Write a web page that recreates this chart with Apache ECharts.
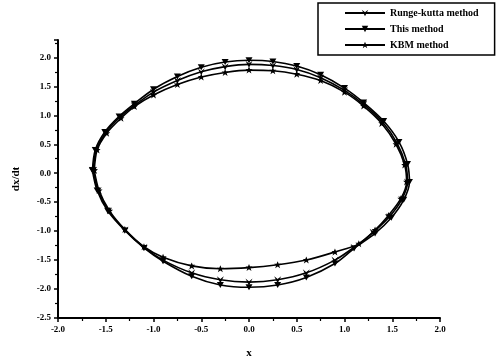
<!DOCTYPE html>
<html>
<head>
<meta charset="utf-8">
<script src="https://cdn.jsdelivr.net/npm/echarts@6/dist/echarts.min.js"></script>
<style>
html, body { margin: 0; padding: 0; background: #fff; }
#chart { width: 504px; height: 364px; }
</style>
</head>
<body>
<div id="chart"></div>
<script>
// phase portrait, three methods (x, dx/dt)
var seriesNames = ['Runge-kutta method', 'This method', 'KBM method'];

var rungeKutta = [
    [-1.63, 0.05], [-1.60, 0.40], [-1.50, 0.70], [-1.35, 0.97], [-1.20, 1.17],
    [-1.00, 1.40], [-0.75, 1.60], [-0.50, 1.75], [-0.25, 1.84], [0.00, 1.88],
    [0.25, 1.86], [0.50, 1.79], [0.75, 1.65], [1.00, 1.43], [1.20, 1.19],
    [1.40, 0.88], [1.55, 0.52], [1.64, 0.15], [1.66, -0.15], [1.60, -0.45],
    [1.47, -0.75], [1.30, -1.02], [1.10, -1.28], [0.90, -1.50], [0.60, -1.72],
    [0.30, -1.84], [0.00, -1.88], [-0.30, -1.84], [-0.60, -1.72], [-0.90, -1.50],
    [-1.10, -1.28], [-1.30, -0.98], [-1.47, -0.65], [-1.58, -0.30], [-1.63, 0.05]
];

var thisMethod = [
    [-1.64, 0.05], [-1.61, 0.40], [-1.51, 0.71], [-1.36, 0.98], [-1.20, 1.20],
    [-1.00, 1.45], [-0.75, 1.67], [-0.50, 1.83], [-0.25, 1.92], [0.00, 1.95],
    [0.25, 1.93], [0.50, 1.85], [0.75, 1.70], [1.00, 1.47], [1.20, 1.22],
    [1.41, 0.90], [1.57, 0.54], [1.66, 0.16], [1.68, -0.15], [1.62, -0.46],
    [1.49, -0.77], [1.32, -1.04], [1.10, -1.30], [0.90, -1.56], [0.60, -1.80],
    [0.30, -1.93], [0.00, -1.97], [-0.30, -1.93], [-0.60, -1.78], [-0.90, -1.52],
    [-1.10, -1.29], [-1.30, -0.99], [-1.48, -0.65], [-1.59, -0.30], [-1.64, 0.05]
];

var kbmMethod = [
    [-1.62, 0.05], [-1.59, 0.40], [-1.49, 0.69], [-1.34, 0.95], [-1.20, 1.15],
    [-1.00, 1.35], [-0.75, 1.53], [-0.50, 1.66], [-0.25, 1.74], [0.00, 1.78],
    [0.25, 1.77], [0.50, 1.71], [0.75, 1.60], [1.00, 1.40], [1.20, 1.16],
    [1.39, 0.86], [1.54, 0.50], [1.63, 0.14], [1.65, -0.15], [1.59, -0.44],
    [1.46, -0.73], [1.32, -0.98], [1.15, -1.22], [0.90, -1.36], [0.60, -1.50],
    [0.30, -1.58], [0.00, -1.63], [-0.30, -1.65], [-0.60, -1.60], [-0.90, -1.45],
    [-1.10, -1.27], [-1.30, -0.97], [-1.46, -0.65], [-1.57, -0.30], [-1.62, 0.05]
];

var xTicks = { min: -2.0, max: 2.0, step: 0.5 };
var yTicks = { min: -2.5, max: 2.3, step: 0.5 };

var serif = "'Liberation Serif', 'DejaVu Serif', serif";
var symRK = 'path://M0,0L5,4L10,0L5,10Z';
var symThis = 'path://M0,0L10,0L5,9Z';
var symKBM = 'path://M5,0L6.5,3.5L10,3.5L7.2,6L8.5,10L5,7.5L1.5,10L2.8,6L0,3.5L3.5,3.5Z';

var chart = echarts.init(document.getElementById('chart'));

function axisCommon() {
    return {
        type: 'value',
        axisLine: { show: true, onZero: false, lineStyle: { color: '#000', width: 2 } },
        axisTick: { show: true, inside: false, length: 4, lineStyle: { color: '#000', width: 1.5 } },
        minorTick: { show: true, splitNumber: 2, length: 3, lineStyle: { color: '#000', width: 1.2 } },
        splitLine: { show: false },
        minorSplitLine: { show: false },
        axisLabel: {
            color: '#000', fontFamily: serif, fontWeight: 'bold', fontSize: 9, margin: 7,
            formatter: function(v) {
                if (Math.abs(v * 2 - Math.round(v * 2)) > 1e-6) return '';
                return v.toFixed(1);
            }
        },
        nameTextStyle: { color: '#000', fontFamily: serif, fontWeight: 'bold', fontSize: 11 }
    };
}

var xAxis = axisCommon();
xAxis.min = xTicks.min;
xAxis.max = xTicks.max;
xAxis.interval = xTicks.step;
xAxis.name = 'x';
xAxis.nameLocation = 'middle';
xAxis.nameGap = 30;

var yAxis = axisCommon();
yAxis.min = yTicks.min;
yAxis.max = yTicks.max;
yAxis.interval = yTicks.step;
yAxis.name = 'dx/dt';
yAxis.nameLocation = 'middle';
yAxis.nameGap = 36;

function makeSeries(name, data, symbol, size) {
    return {
        name: name,
        type: 'line',
        data: data,
        smooth: 0.3,
        symbol: symbol,
        symbolSize: size,
        showAllSymbol: true,
        lineStyle: { color: '#000', width: 1.6 },
        itemStyle: { color: '#000' },
        animation: false
    };
}

var option = {
    backgroundColor: '#fff',
    animation: false,
    grid: { left: 58, right: 64, top: 40, bottom: 42 },
    legend: {
        orient: 'vertical',
        left: 318,
        top: 3,
        itemWidth: 40,
        itemHeight: 8,
        itemGap: 6,
        padding: [5, 16, 5, 26],
        borderColor: '#000',
        borderWidth: 1.5,
        textStyle: { color: '#000', fontFamily: serif, fontWeight: 'bold', fontSize: 10 },
        data: seriesNames
    },
    xAxis: xAxis,
    yAxis: yAxis,
    series: [
        makeSeries(seriesNames[0], rungeKutta, symRK, [7, 7]),
        makeSeries(seriesNames[1], thisMethod, symThis, [7, 6]),
        makeSeries(seriesNames[2], kbmMethod, symKBM, [7, 7])
    ]
};
chart.setOption(option);
</script>
</body>
</html>
